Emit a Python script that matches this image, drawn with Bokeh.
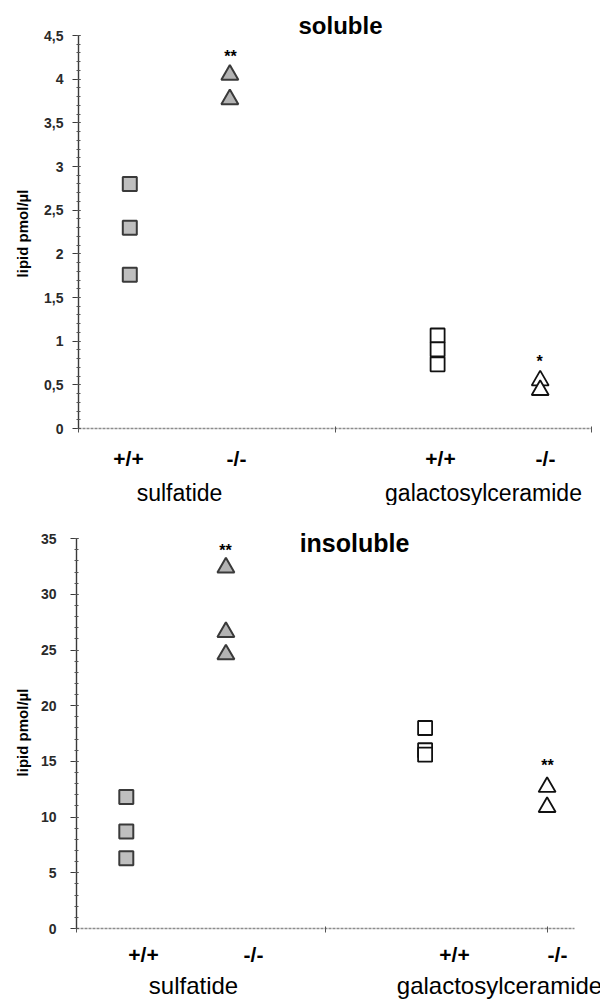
import numpy as np
from bokeh.plotting import figure
from bokeh.layouts import column
from bokeh.models import Range1d, FixedTicker, CustomJSTickFormatter, Label, LinearAxis
from bokeh.embed import file_html
from bokeh.resources import INLINE

# ---------------- data ----------------
groups = ["sulfatide", "galactosylceramide"]
genotypes = ["+/+", "-/-"]

# soluble (lipid pmol/µl)
sol_sulf_wt = [2.80, 2.30, 1.76]
sol_sulf_ko = [4.05, 3.77]
sol_gal_wt = [1.065, 0.905, 0.735]
sol_gal_ko = [0.55, 0.44]
sol_x = [0.20, 0.59, 1.40, 1.80]

# insoluble (lipid pmol/µl)
ins_sulf_wt = [11.8, 8.7, 6.3]
ins_sulf_ko = [32.4, 26.6, 24.6]
ins_gal_wt = [18.0, 16.0, 15.6]
ins_gal_ko = [12.7, 10.9]
ins_x = [0.20, 0.60, 1.40, 1.89]

sol_yticks = [0, 0.5, 1, 1.5, 2, 2.5, 3, 3.5, 4, 4.5]
ins_yticks = [0, 5, 10, 15, 20, 25, 30, 35]

FONT = "Liberation Sans"
DARK = "#3a3a3a"
W = 600


def make_panel(title, series, xs, yticks, ytop, minor_step, xticks,
               ax_x, x_per_unit, ax_y, y_per_unit, canvas_top, canvas_h,
               sig_px, title_px, ylab_px, geno_px, group_px,
               tick_font, tick_standoff, title_font, geno_font, group_font, ylab_font):
    # layout helpers: canvas pixel -> data coordinates
    X = lambda px: (px - ax_x) / x_per_unit
    Y = lambda py: (ax_y - py) / y_per_unit

    p = figure(width=W, height=canvas_h,
               x_range=Range1d(X(0), X(W)),
               y_range=Range1d(Y(canvas_top + canvas_h), Y(canvas_top)),
               x_axis_location=None, y_axis_location=None,
               output_backend="svg", toolbar_location=None,
               min_border=0, min_border_left=0, min_border_right=0,
               min_border_top=0, min_border_bottom=0)
    p.outline_line_color = None
    p.xgrid.visible = False
    p.ygrid.visible = False
    p.background_fill_color = "white"

    # y axis
    minors = list(np.round(np.arange(0, ytop + minor_step / 2, minor_step), 4))
    ya = LinearAxis(fixed_location=0, bounds=(0, ytop),
                    ticker=FixedTicker(ticks=yticks, minor_ticks=minors),
                    formatter=CustomJSTickFormatter(code="return tick.toString().replace('.', ',');"))
    ya.axis_line_color = DARK
    ya.axis_line_width = 1.4
    ya.major_tick_line_color = DARK
    ya.major_tick_line_width = 1.2
    ya.minor_tick_line_color = "#555555"
    ya.major_tick_in = 2
    ya.major_tick_out = 6
    ya.minor_tick_in = 2
    ya.minor_tick_out = 2
    ya.major_label_standoff = tick_standoff
    ya.major_label_text_font = FONT
    ya.major_label_text_font_style = "bold"
    ya.major_label_text_font_size = tick_font
    ya.major_label_text_color = "#2a2a2a"
    p.add_layout(ya, "left")

    # x axis
    xa = LinearAxis(fixed_location=0, bounds=(0, 2),
                    ticker=FixedTicker(ticks=xticks, minor_ticks=[]))
    xa.axis_line_color = "#8c8c8c"
    xa.axis_line_width = 1.5
    xa.axis_line_dash = "3 1"
    xa.major_tick_line_color = "#555555"
    xa.major_tick_in = 2
    xa.major_tick_out = 4
    xa.major_label_text_alpha = 0
    xa.major_label_text_font_size = "1px"
    p.add_layout(xa, "below")

    # markers
    (s_wt, s_ko, g_wt, g_ko) = series
    p.scatter([xs[0]] * len(s_wt), s_wt, marker="square", size=14,
              fill_color="#bfbfbf", line_color=DARK, line_width=2)
    p.scatter([xs[1]] * len(s_ko), s_ko, marker="triangle", size=17,
              fill_color="#b3b3b3", line_color=DARK, line_width=2)
    p.scatter([xs[2]] * len(g_wt), g_wt, marker="square", size=14,
              fill_color="white", line_color="#111111", line_width=1.8)
    p.scatter([xs[3]] * len(g_ko), g_ko, marker="triangle", size=17,
              fill_color="white", line_color="#111111", line_width=1.8)

    def lab(px, py, text, size, bold=False, angle=0.0, color="black"):
        p.add_layout(Label(x=X(px), y=Y(py), text=text, x_units="data", y_units="data",
                           text_align="center", text_baseline="middle",
                           text_font=FONT, text_font_size=size,
                           text_font_style="bold" if bold else "normal",
                           text_color=color, angle=angle))

    lab(title_px[0], title_px[1], title, title_font, bold=True)
    for (px, py, t) in sig_px:
        lab(px, py, t, "16px", bold=True)
    lab(ylab_px[0], ylab_px[1], "lipid pmol/µl", ylab_font, bold=True, angle=np.pi / 2)
    for i, (px, py) in enumerate(geno_px):
        lab(px, py, genotypes[i % 2], geno_font, bold=True)
    for i, (px, py) in enumerate(group_px):
        lab(px, py, groups[i], group_font)
    return p


p1 = make_panel(
    "soluble",
    (sol_sulf_wt, sol_sulf_ko, sol_gal_wt, sol_gal_ko),
    sol_x, sol_yticks, 4.5, 0.1, [0, 1, 2],
    ax_x=78, x_per_unit=256.5, ax_y=428, y_per_unit=87.33, canvas_top=0, canvas_h=505,
    sig_px=[(230, 56, "**"), (539, 361, "*")],
    title_px=(340, 25),
    ylab_px=(22, 233),
    geno_px=[(128, 458), (236, 458), (440, 458), (545, 458)],
    group_px=[(179, 492), (483, 492)],
    tick_font="14px", tick_standoff=9, title_font="24px",
    geno_font="21px", group_font="23px", ylab_font="15px")

p2 = make_panel(
    "insoluble",
    (ins_sulf_wt, ins_sulf_ko, ins_gal_wt, ins_gal_ko),
    ins_x, ins_yticks, 35, 1, [0, 1, 1.89],
    ax_x=76, x_per_unit=249, ax_y=928 - 505, y_per_unit=11.14, canvas_top=0, canvas_h=495,
    sig_px=[(225, 550 - 505, "**"), (547, 765 - 505, "**")],
    title_px=(354, 542 - 505),
    ylab_px=(22, 732 - 505),
    geno_px=[(143, 954 - 505), (253, 954 - 505), (454, 954 - 505), (557, 954 - 505)],
    group_px=[(193, 985 - 505), (499, 985 - 505)],
    tick_font="14px", tick_standoff=14, title_font="25px",
    geno_font="21px", group_font="24px", ylab_font="15px")

layout = column(p1, p2, spacing=0)
open("out.html", "w").write(file_html(layout, INLINE))
